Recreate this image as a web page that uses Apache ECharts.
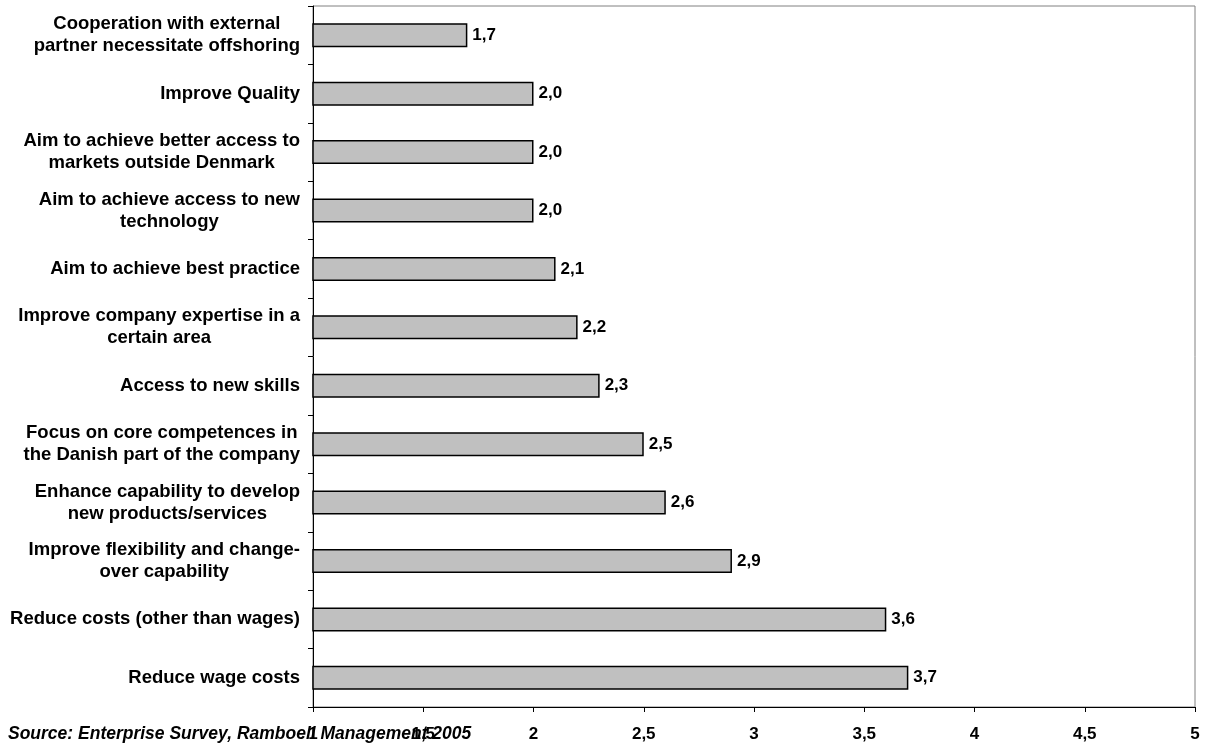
<!DOCTYPE html>
<html>
<head>
<meta charset="utf-8">
<script src="https://cdn.jsdelivr.net/npm/echarts@6/dist/echarts.min.js"></script>
<style>
  html, body { margin: 0; padding: 0; background: #fff; }
  #chart { width: 1206px; height: 749px; }
</style>
</head>
<body>
<div id="chart"></div>
<script>
// categories, top to bottom
const categories = [
  'Cooperation with external\npartner necessitate offshoring',
  'Improve Quality',
  'Aim to achieve better access to\nmarkets outside Denmark',
  'Aim to achieve access to new\ntechnology',
  'Aim to achieve best practice',
  'Improve company expertise in a\ncertain area',
  'Access to new skills',
  'Focus on core competences in\nthe Danish part of the company',
  'Enhance capability to develop\nnew products/services',
  'Improve flexibility and change-\nover capability',
  'Reduce costs (other than wages)',
  'Reduce wage costs'
]
const scores = [1.7, 2.0, 2.0, 2.0, 2.1, 2.2, 2.3, 2.5, 2.6, 2.9, 3.6, 3.7]
const sourceNote = 'Source: Enterprise Survey, Ramboell Management 2005'

const fmt = v => String(v).replace('.', ',')

const chart = echarts.init(document.getElementById('chart'))

chart.setOption({
  animation: false,
  textStyle: { fontFamily: 'Liberation Sans, Arial, sans-serif' },
  graphic: [{
    type: 'text',
    left: 8,
    top: 725,
    style: {
      text: sourceNote,
      font: 'italic bold 17.5px "Liberation Sans", Arial, sans-serif',
      fill: '#000'
    }
  }],
  grid: {
    left: 313,
    right: 11,
    top: 6,
    bottom: 42,
    show: true,
    borderColor: '#808080',
    borderWidth: 1
  },
  xAxis: {
    type: 'value',
    min: 1,
    max: 5,
    interval: 0.5,
    splitLine: { show: false },
    axisLine: { show: true, lineStyle: { color: '#000', width: 1 } },
    axisTick: { show: true, length: 5, lineStyle: { color: '#000' } },
    axisLabel: {
      margin: 19,
      color: '#000',
      fontWeight: 'bold',
      fontSize: 17,
      formatter: v => fmt(v)
    }
  },
  yAxis: {
    type: 'category',
    inverse: true,
    data: categories,
    axisLine: { show: true, lineStyle: { color: '#000', width: 1 } },
    axisTick: { show: true, length: 5, lineStyle: { color: '#000' } },
    axisLabel: {
      margin: 13,
      align: 'right',
      // lines centred inside the right-aligned block
      formatter: v => v.split('\n').map(s => '{c|' + s + '}').join('\n'),
      rich: {
        c: {
          align: 'center',
          color: '#000',
          fontWeight: 'bold',
          fontSize: 18.5,
          lineHeight: 22
        }
      }
    }
  },
  series: [{
    type: 'bar',
    data: scores,
    barWidth: 24,
    itemStyle: {
      color: '#c0c0c0',
      borderColor: '#000',
      borderWidth: 1.5
    },
    label: {
      show: true,
      position: 'right',
      distance: 5,
      color: '#000',
      fontWeight: 'bold',
      fontSize: 17,
      formatter: p => p.value.toFixed(1).replace('.', ',')
    }
  }]
})
</script>
</body>
</html>
